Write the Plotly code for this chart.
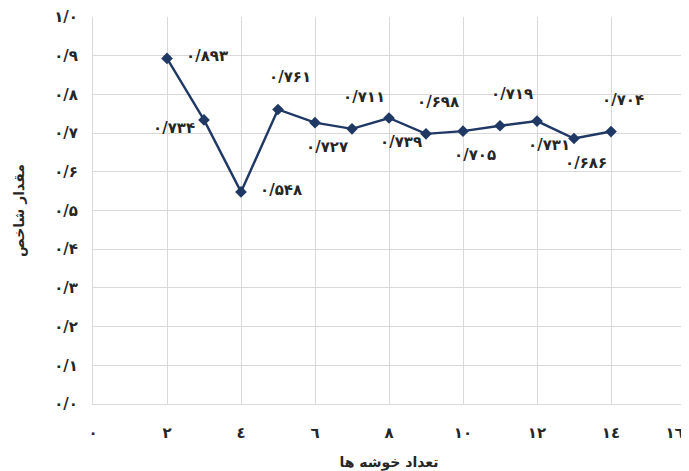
import plotly.graph_objects as go

# ---- data ----
clusters = [2, 3, 4, 5, 6, 7, 8, 9, 10, 11, 12, 13, 14]
index_values = [0.893, 0.734, 0.548, 0.761, 0.727, 0.711, 0.739,
                0.698, 0.705, 0.719, 0.731, 0.686, 0.704]
x_tick_vals = [0, 2, 4, 6, 8, 10, 12, 14, 16]
x_tick_text = ["٠", "٢", "٤", "٦", "٨", "١٠", "١٢", "١٤", "١٦\u00a0\u00a0\u00a0\u00a0"]
y_tick_vals = [0.0, 0.1, 0.2, 0.3, 0.4, 0.5, 0.6, 0.7, 0.8, 0.9, 1.0]
y_tick_text = ["۰/۰", "۰/۱", "۰/۲", "۰/۳", "۰/۴", "۰/۵", "۰/۶", "۰/۷", "۰/۸", "۰/۹", "۱/۰"]
x_title = "تعداد خوشه ها"
y_title = "مقدار شاخص"

# ---- label placement style (per point) ----
label_side = ["r", "l", "r", "t", "b", "t", "b", "t", "b", "t", "b", "b", "t"]

PERSIAN = str.maketrans("0123456789.", "۰۱۲۳۴۵۶۷۸۹/")


def fa(v):
    return f"{v:.3f}".translate(PERSIAN)


LINE = "#1F3864"
TXT = "#262626"
FONT = "DejaVu Sans"

fig = go.Figure()
fig.add_trace(go.Scatter(
    x=clusters, y=index_values, mode="lines+markers",
    line=dict(color=LINE, width=2.4),
    marker=dict(symbol="diamond", size=9, color=LINE),
    hoverinfo="skip", showlegend=False,
))

offsets = {
    "r": dict(xanchor="left", yanchor="middle", xshift=17, yshift=2),
    "l": dict(xanchor="right", yanchor="middle", xshift=-7, yshift=-8),
    "t": dict(xanchor="center", yanchor="middle", xshift=12, yshift=32),
    "b": dict(xanchor="center", yanchor="middle", xshift=12, yshift=-24),
}

annotations = []
for xv, yv, side in zip(clusters, index_values, label_side):
    a = dict(x=xv, y=yv, xref="x", yref="y", text=fa(yv), showarrow=False,
             font=dict(family=FONT, size=15, color=TXT, weight="bold"))
    a.update(offsets[side])
    annotations.append(a)

# the page body adds an 8px offset, so the figure is sized to fit the window
fig.update_layout(
    width=681, height=463,
    margin=dict(l=85, r=4, t=9, b=67, autoexpand=False),
    paper_bgcolor="white", plot_bgcolor="white",
    font=dict(family=FONT, size=13, color=TXT),
    annotations=annotations,
    xaxis=dict(
        range=[0, 16], tickmode="array", tickvals=x_tick_vals, ticktext=x_tick_text,
        showgrid=True, gridcolor="#d9d9d9", gridwidth=1,
        showline=True, linecolor="#d9d9d9", linewidth=1,
        zeroline=False, ticks="", ticklabelstandoff=15,
        ticklabeloverflow="allow", automargin=False,
        tickfont=dict(family=FONT, size=15, color=TXT, weight="bold"),
        title=dict(text=x_title, font=dict(family=FONT, size=14, color=TXT, weight="bold"), standoff=28),
        fixedrange=True,
    ),
    yaxis=dict(
        range=[0, 1.0], tickmode="array", tickvals=y_tick_vals, ticktext=y_tick_text,
        showgrid=True, gridcolor="#d9d9d9", gridwidth=1,
        showline=True, linecolor="#d9d9d9", linewidth=1,
        zeroline=False, ticks="", ticklabelstandoff=11,
        ticklabeloverflow="allow", automargin=False,
        tickfont=dict(family=FONT, size=15, color=TXT, weight="bold"),
        title=dict(text=y_title, font=dict(family=FONT, size=14, color=TXT, weight="bold"), standoff=26),
        fixedrange=True,
    ),
)

fig.write_html("out.html")
